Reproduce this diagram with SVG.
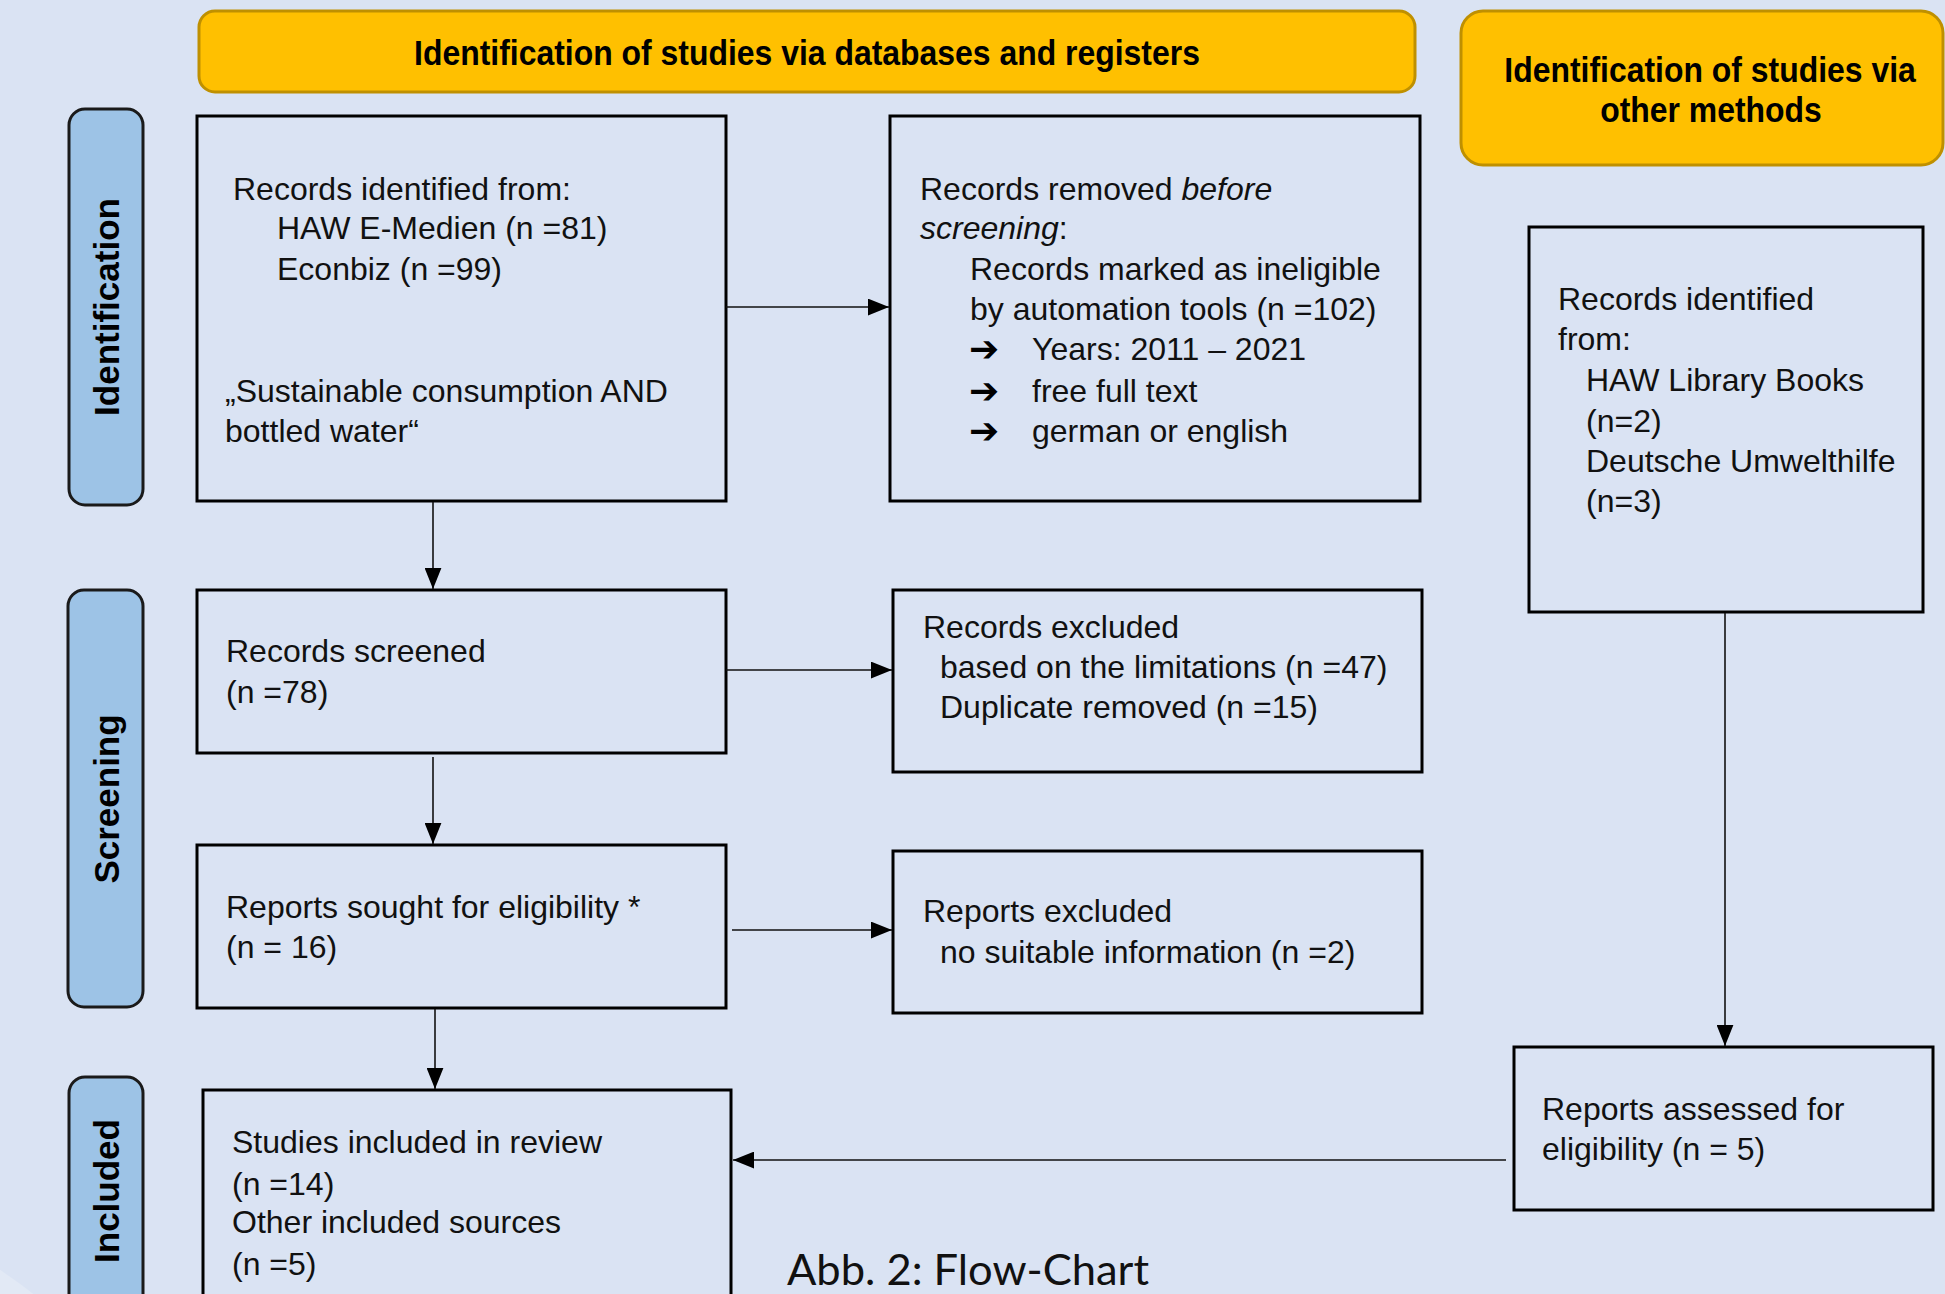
<svg xmlns="http://www.w3.org/2000/svg" width="1945" height="1294" viewBox="0 0 1945 1294">
<style>
.bg{fill:#DAE3F3}
.hdr{fill:#FFC000;stroke:#BF9000;stroke-width:3}
.hdrt{font-family:"Liberation Sans",Arial,sans-serif;font-weight:bold;font-size:36px;fill:#000;text-anchor:middle}
.lbl{fill:#9DC3E6;stroke:#1a1a1a;stroke-width:3}
.lblt{font-family:"Liberation Sans",Arial,sans-serif;font-weight:bold;font-size:35px;fill:#000;text-anchor:middle}
.box{fill:none;stroke:#000;stroke-width:3}
.t{font-family:"Liberation Sans",Arial,sans-serif;font-size:32px;fill:#111}
.arr{font-family:"DejaVu Sans",sans-serif;font-weight:bold;font-size:36px;fill:#000}
.con{fill:none;stroke:#111;stroke-width:1.6;marker-end:url(#ah)}
.cap{font-family:Lato,"Open Sans",sans-serif;font-size:42px;fill:#111}
</style>
<defs>
<marker id="ah" viewBox="0 0 20 16" refX="20" refY="8" markerWidth="21" markerHeight="17" markerUnits="userSpaceOnUse" orient="auto">
<path d="M0,0 L20,8 L0,16 z" fill="#000"/>
</marker>
</defs>
<rect class="bg" x="0" y="0" width="1945" height="1294"/>
<circle cx="-250" cy="1650" r="455" fill="#E2E9F5"/>

<g id="header-databases">
<rect class="hdr" x="199" y="11" width="1216" height="81" rx="16"/>
<text class="hdrt" transform="translate(807,65) scale(0.887,1)">Identification of studies via databases and registers</text>
</g>
<g id="header-other">
<rect class="hdr" x="1461" y="11" width="482" height="154" rx="22"/>
<text class="hdrt" transform="translate(1710,82) scale(0.887,1)">Identification of studies via</text>
<text class="hdrt" transform="translate(1711,122) scale(0.887,1)">other methods</text>
</g>

<g id="label-identification">
<rect class="lbl" x="69" y="109" width="74" height="396" rx="16"/>
<text class="lblt" transform="translate(119,307) rotate(-90)">Identification</text>
</g>
<g id="label-screening">
<rect class="lbl" x="68" y="590" width="75" height="417" rx="16"/>
<text class="lblt" transform="translate(119,799) rotate(-90)">Screening</text>
</g>
<g id="label-included">
<rect class="lbl" x="69" y="1077" width="74" height="240" rx="16"/>
<text class="lblt" transform="translate(119,1191) rotate(-90)">Included</text>
</g>

<g id="records-identified">
<rect class="box" x="197" y="116" width="529" height="385"/>
<text class="t" x="233" y="200">Records identified from:</text>
<text class="t" x="277" y="239">HAW E-Medien (n =81)</text>
<text class="t" x="277" y="280">Econbiz (n =99)</text>
<text class="t" x="225" y="402">„Sustainable consumption AND</text>
<text class="t" x="225" y="442">bottled water“</text>
</g>

<g id="records-removed">
<rect class="box" x="890" y="116" width="530" height="385"/>
<text class="t" x="920" y="200">Records removed <tspan font-style="italic">before</tspan></text>
<text class="t" x="920" y="239"><tspan font-style="italic">screening</tspan>:</text>
<text class="t" x="970" y="280">Records marked as ineligible</text>
<text class="t" x="970" y="320">by automation tools (n =102)</text>
<text class="arr" x="969" y="361">➔</text>
<text class="t" x="1032" y="360">Years: 2011 – 2021</text>
<text class="arr" x="969" y="403">➔</text>
<text class="t" x="1032" y="402">free full text</text>
<text class="arr" x="969" y="443">➔</text>
<text class="t" x="1032" y="442">german or english</text>
</g>

<g id="records-other">
<rect class="box" x="1529" y="227" width="394" height="385"/>
<text class="t" x="1558" y="310">Records identified</text>
<text class="t" x="1558" y="350">from:</text>
<text class="t" x="1586" y="391">HAW Library Books</text>
<text class="t" x="1586" y="432">(n=2)</text>
<text class="t" x="1586" y="472">Deutsche Umwelthilfe</text>
<text class="t" x="1586" y="512">(n=3)</text>
</g>

<g id="records-screened">
<rect class="box" x="197" y="590" width="529" height="163"/>
<text class="t" x="226" y="662">Records screened</text>
<text class="t" x="226" y="703">(n =78)</text>
</g>

<g id="records-excluded">
<rect class="box" x="893" y="590" width="529" height="182"/>
<text class="t" x="923" y="638">Records excluded</text>
<text class="t" x="940" y="678">based on the limitations (n =47)</text>
<text class="t" x="940" y="718">Duplicate removed (n =15)</text>
</g>

<g id="reports-sought">
<rect class="box" x="197" y="845" width="529" height="163"/>
<text class="t" x="226" y="918">Reports sought for eligibility *</text>
<text class="t" x="226" y="958">(n = 16)</text>
</g>

<g id="reports-excluded">
<rect class="box" x="893" y="851" width="529" height="162"/>
<text class="t" x="923" y="922">Reports excluded</text>
<text class="t" x="940" y="963">no suitable information (n =2)</text>
</g>

<g id="reports-assessed">
<rect class="box" x="1514" y="1047" width="419" height="163"/>
<text class="t" x="1542" y="1120">Reports assessed for</text>
<text class="t" x="1542" y="1160">eligibility (n = 5)</text>
</g>

<g id="studies-included">
<rect class="box" x="203" y="1090" width="528" height="240"/>
<text class="t" x="232" y="1153">Studies included in review</text>
<text class="t" x="232" y="1195">(n =14)</text>
<text class="t" x="232" y="1233">Other included sources</text>
<text class="t" x="232" y="1275">(n =5)</text>
</g>

<g id="connectors">
<line class="con" x1="726" y1="307" x2="889" y2="307"/>
<line class="con" x1="433" y1="502" x2="433" y2="589"/>
<line class="con" x1="726" y1="670" x2="892" y2="670"/>
<line class="con" x1="433" y1="757" x2="433" y2="844"/>
<line class="con" x1="732" y1="930" x2="892" y2="930"/>
<line class="con" x1="435" y1="1009" x2="435" y2="1089"/>
<line class="con" x1="1725" y1="613" x2="1725" y2="1046"/>
<line class="con" x1="1506" y1="1160" x2="733" y2="1160"/>
</g>

<text class="cap" x="787" y="1285" textLength="362" lengthAdjust="spacingAndGlyphs">Abb. 2: Flow-Chart</text>
</svg>
